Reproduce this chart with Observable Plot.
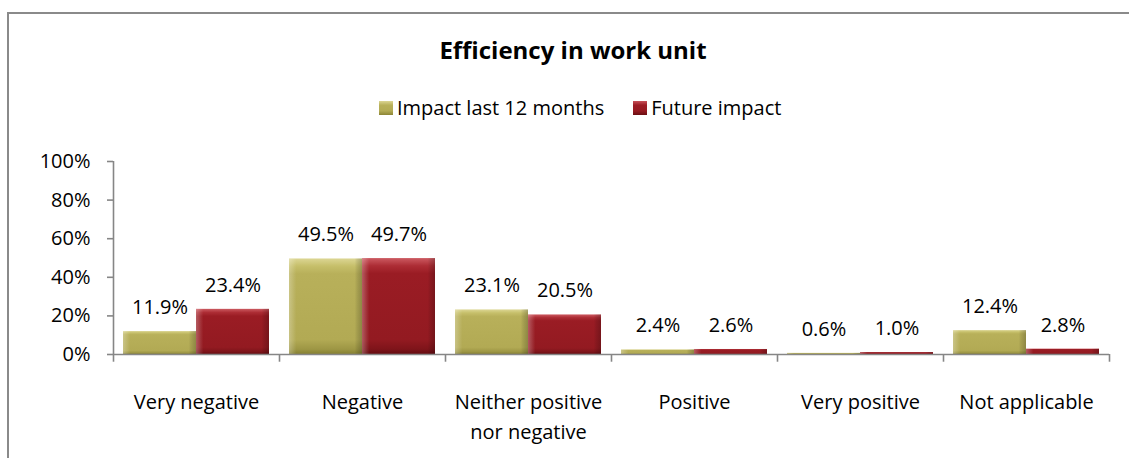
<!DOCTYPE html>
<html>
<head>
<meta charset="utf-8">
<script src="https://cdn.jsdelivr.net/npm/d3@7"></script>
<script src="https://cdn.jsdelivr.net/npm/@observablehq/plot@0.6"></script>
<style>
  html, body { margin: 0; padding: 0; background: #fff; overflow: hidden; }
  body { width: 1129px; height: 458px; position: relative; font-family: "Open Sans", Lato, sans-serif; color: #000; }
  #frame { position: absolute; left: 7px; top: 12px; width: 1200px; height: 600px; border: 2px solid #8a8a8a; box-sizing: border-box; }
  #title { position: absolute; left: 0; width: 1146px; top: 35px; text-align: center; font-weight: bold; font-size: 24px; line-height: 30px; }
  #legend { position: absolute; left: 379px; top: 95px; display: flex; align-items: center; font-size: 20px; line-height: 26px; gap: 29px; }
  .item { display: flex; align-items: center; gap: 4px; }
  .sw { width: 14px; height: 14px; box-sizing: border-box; }
  #chart { position: absolute; left: 0; top: 0; }
</style>
</head>
<body>
<div id="frame"></div>
<div id="title"></div>
<div id="legend"></div>
<div id="chart"></div>
<script>
const chartTitle = "Efficiency in work unit";
const categories = ["Very negative", "Negative", "Neither positive nor negative", "Positive", "Very positive", "Not applicable"];
const seriesNames = ["Impact last 12 months", "Future impact"];
const impactLast12 = [11.9, 49.5, 23.1, 2.4, 0.6, 12.4];
const futureImpact = [23.4, 49.7, 20.5, 2.6, 1.0, 2.8];
const yTicks = [0, 20, 40, 60, 80, 100];

const rows1 = categories.map((c, i) => ({category: c, value: impactLast12[i]}));
const rows2 = categories.map((c, i) => ({category: c, value: futureImpact[i]}));

document.getElementById("title").textContent = chartTitle;
const legend = document.getElementById("legend");
seriesNames.forEach((s, i) => {
  const it = document.createElement("div");
  it.className = "item";
  const sw = document.createElement("div");
  sw.className = "sw";
  sw.style.background = i === 0
    ? "linear-gradient(180deg,#dcd694 0%,#b8b05a 30%,#b3ab55 70%,#8c8536 100%)"
    : "linear-gradient(180deg,#c8525a 0%,#9c1d25 30%,#961a22 70%,#6a0e13 100%)";
  const tx = document.createElement("span");
  tx.textContent = s;
  it.append(sw, tx);
  legend.append(it);
});

const W = 1129, H = 458;
const mL = 113, mR = 20, mT = 161, mB = 104;
const step = (W - mL - mR) / categories.length;
const padInner = 20 / step;
const bw = step * (1 - padInner);
const half = bw / 2;
const axisGray = "#868686";
const fmt = d => d.toFixed(1) + "%";
const font = "'Open Sans', Lato, sans-serif";

const plot = Plot.plot({
  width: W,
  height: H,
  marginLeft: mL,
  marginRight: mR,
  marginTop: mT,
  marginBottom: mB,
  style: {fontFamily: font, fontSize: "20px", color: "#000", background: "transparent", overflow: "visible"},
  x: {domain: categories, paddingInner: padInner, paddingOuter: padInner / 2, axis: null},
  y: {domain: [0, 100], axis: null},
  marks: [
    Plot.barY(rows1, {x: "category", y: "value", fill: "url(#gOlive)", insetRight: half}),
    Plot.barY(rows1, {x: "category", y: "value", fill: "url(#gEdge)", insetRight: half}),
    Plot.barY(rows2, {x: "category", y: "value", fill: "url(#gRed)", insetLeft: half}),
    Plot.barY(rows2, {x: "category", y: "value", fill: "url(#gEdge)", insetLeft: half}),
    Plot.ruleY([0], {stroke: axisGray, strokeWidth: 1.6}),
    Plot.ruleX(categories, {x: d => d, dx: -step / 2, y1: -4, y2: 0, stroke: axisGray, strokeWidth: 1.6}),
    Plot.ruleX([categories[categories.length - 1]], {x: d => d, dx: step / 2, y1: -4, y2: 0, stroke: axisGray, strokeWidth: 1.6}),
    Plot.ruleX([categories[0]], {x: d => d, dx: -step / 2, y1: 0, y2: 100, stroke: axisGray, strokeWidth: 1.6}),
    Plot.axisY({ticks: yTicks, tickFormat: d => d + "%", tickSize: 6, tickPadding: 17, stroke: axisGray, strokeWidth: 1.6, fill: "#000", fontSize: 20, label: null}),
    Plot.axisX({tickSize: 0, tickPadding: 33, fontSize: 20, lineHeight: 1.5, fill: "#000", label: null,
      tickFormat: d => d.replace("positive nor", "positive\nnor")}),
    Plot.text(rows1, {x: "category", y: "value", text: d => fmt(d.value), dx: -half / 2, dy: -24, fontSize: 20, fill: "#000"}),
    Plot.text(rows2, {x: "category", y: "value", text: d => fmt(d.value), dx: half / 2, dy: -24, fontSize: 20, fill: "#000"})
  ]
});

const ns = "http://www.w3.org/2000/svg";
const defs = document.createElementNS(ns, "defs");
defs.innerHTML = `
<linearGradient id="gOlive" x1="0" y1="0" x2="0" y2="1">
  <stop offset="0" stop-color="#dcd694"/>
  <stop offset="0.08" stop-color="#c6bf6a"/>
  <stop offset="0.16" stop-color="#b8b05a"/>
  <stop offset="0.85" stop-color="#b2aa54"/>
  <stop offset="0.95" stop-color="#9d9644"/>
  <stop offset="1" stop-color="#858032"/>
</linearGradient>
<linearGradient id="gRed" x1="0" y1="0" x2="0" y2="1">
  <stop offset="0" stop-color="#cc5a61"/>
  <stop offset="0.08" stop-color="#ad2d35"/>
  <stop offset="0.16" stop-color="#9a1c24"/>
  <stop offset="0.85" stop-color="#931a21"/>
  <stop offset="0.95" stop-color="#7e141a"/>
  <stop offset="1" stop-color="#640c11"/>
</linearGradient>
<linearGradient id="gEdge" x1="0" y1="0" x2="1" y2="0">
  <stop offset="0" stop-color="#ffffff" stop-opacity="0.28"/>
  <stop offset="0.07" stop-color="#ffffff" stop-opacity="0.08"/>
  <stop offset="0.1" stop-color="#ffffff" stop-opacity="0"/>
  <stop offset="0.9" stop-color="#000000" stop-opacity="0"/>
  <stop offset="0.93" stop-color="#000000" stop-opacity="0.08"/>
  <stop offset="1" stop-color="#000000" stop-opacity="0.22"/>
</linearGradient>`;
plot.insertBefore(defs, plot.firstChild);
document.getElementById("chart").append(plot);
</script>
</body>
</html>
